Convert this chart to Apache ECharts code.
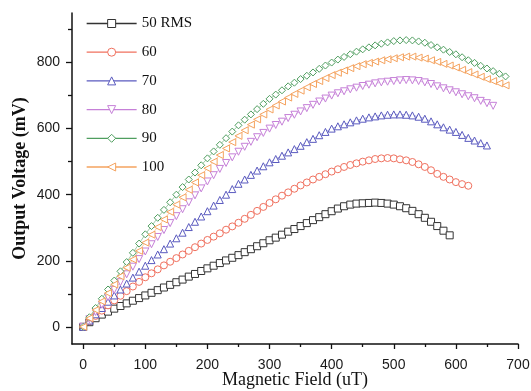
<!DOCTYPE html>
<html>
<head>
<meta charset="utf-8">
<script src="https://cdn.jsdelivr.net/npm/echarts@6/dist/echarts.min.js"></script>
<style>html,body{margin:0;padding:0;background:#fff}#c{width:531px;height:391px}</style>
</head>
<body>
<div id="c"></div>
<script>
var fieldValues = [0,10,20,30,40,50,60,70,80,90,100,110,120,130,140,150,160,170,180,190,200,210,220,230,240,250,260,270,280,290,300,310,320,330,340,350,360,370,380,390,400,410,420,430,440,450,460,470,480,490,500,510,520,530,540,550,560,570,580,590,600,610,620,630,640,650,660,670,680];
var rms50 = [0,14,26,37,46,55,63,71,79,87,95,103,111,119,127,135,143,152,160,169,177,185,193,201,209,217,226,235,244,253,262,270,279,288,296,305,314,323,332,341,350,358,365,370,373,374,375,376,375,373,370,365,359,351,341,330,318,305,291,277];
var rms60 = [0,17,33,49,65,80,94,108,122,136,150,162,174,186,197,208,219,230,241,252,263,273,283,294,304,315,327,339,351,363,375,386,397,407,418,428,437,446,454,462,470,477,484,490,495,500,504,508,510,511,510,507,504,499,492,484,474,463,454,446,438,432,427];
var rms70 = [0,19,38,57,76,95,113,131,149,167,185,202,219,235,252,268,285,302,318,334,350,367,384,400,417,433,446,460,473,486,498,508,518,528,538,548,559,569,580,590,600,607,613,619,625,630,634,637,640,642,643,643,642,640,636,630,622,613,604,597,590,581,572,564,556,549];
var rms80 = [0,23,45,67,90,112,135,159,182,205,228,250,272,293,314,335,356,377,398,419,440,459,478,496,513,530,545,560,574,587,600,611,621,632,642,652,662,672,682,691,700,707,713,719,724,729,733,737,740,742,744,746,747,746,744,740,735,728,722,716,710,704,698,692,684,677,669];
var rms90 = [0,29,57,85,113,140,168,196,224,252,280,305,330,354,377,400,423,446,467,489,510,531,551,571,591,610,627,643,659,675,690,703,716,728,739,750,760,770,781,791,800,809,817,825,833,840,846,852,857,861,865,867,868,867,864,860,853,846,839,832,825,816,807,799,790,782,774,766,758];
var rms100 = [0,26,51,77,102,128,153,179,204,230,255,279,302,325,348,370,392,415,437,459,480,500,520,540,559,578,595,612,628,643,658,670,682,694,705,715,725,735,744,753,762,769,776,783,789,795,799,803,807,810,813,816,818,818,815,812,807,802,796,791,785,778,771,764,757,750,744,737,731];
var seriesNames = ['50 RMS','60','70','80','90','100'];
var xMajorTicks = [0,100,200,300,400,500,600,700];
var xMinorTicks = [50,150,250,350,450,550,650];
var yMajorTicks = [0,200,400,600,800];
var yMinorTicks = [100,300,500,700,900];

var allValues = [rms50, rms60, rms70, rms80, rms90, rms100];
var colors = ['#333333','#f0705e','#5a5abf','#c680d8','#4f9e5f','#f5a35f'];
var symbols = ['rect','circle','triangle','triangle','diamond','triangle'];
var rotates = [0,0,0,180,0,90];

var chart = echarts.init(document.getElementById('c'), null, {renderer:'canvas'});
var series = allValues.map(function(vals, k){
  return {
    name: seriesNames[k],
    type: 'line',
    xAxisIndex: 0, yAxisIndex: 0,
    data: vals.map(function(v,i){ return [fieldValues[i], v]; }),
    symbol: symbols[k],
    symbolRotate: rotates[k],
    symbolSize: 7,
    showSymbol: true,
    lineStyle: {color: colors[k], opacity: 0.55, width: 1},
    itemStyle: {color: '#ffffff', borderColor: colors[k], borderWidth: 1},
    emphasis: {disabled: true},
    z: 2 + k
  };
});

var axisFont = {fontFamily: 'Liberation Sans, Arial, sans-serif', fontSize: 14, color: '#1a1a1a'};
var option = {
  animation: false,
  backgroundColor: '#ffffff',
  grid: {left: 72, right: 13, top: 13, bottom: 47, containLabel: false, outerBoundsMode: 'none'},
  legend: {
    orient: 'vertical', left: 81, top: 11,
    itemWidth: 50, itemHeight: 10, itemGap: 13.7,
    data: seriesNames.map(function(n, k){
      return {name: n, lineStyle: {color: colors[k], opacity: 1, width: 1.3}};
    }),
    textStyle: {fontFamily: 'Liberation Serif, Times New Roman, serif', fontSize: 15, color: '#111'},
    lineStyle: {opacity: 1, width: 1.3},
    itemStyle: {color: '#ffffff', borderWidth: 1}
  },
  xAxis: [{
    type: 'value', min: -18, max: 700,
    name: 'Magnetic Field (uT)', nameLocation: 'middle', nameGap: 27, nameMoveOverlap: false,
    nameTextStyle: {fontFamily: 'Liberation Serif, Times New Roman, serif', fontSize: 18, color: '#111'},
    axisLine: {show: true, onZero: false, lineStyle: {color: '#111', width: 1.5}},
    axisTick: {show: true, length: 5, customValues: xMajorTicks, lineStyle: {color: '#111', width: 1.3}},
    axisLabel: Object.assign({margin: 14, customValues: xMajorTicks}, axisFont),
    splitLine: {show: false}
  },{
    type: 'value', min: -18, max: 700, position: 'bottom',
    axisLine: {show: false, onZero: false},
    axisTick: {show: true, length: 3, customValues: xMinorTicks, lineStyle: {color: '#111', width: 1.3}},
    axisLabel: {show: false},
    splitLine: {show: false}
  }],
  yAxis: [{
    type: 'value', min: -52, max: 950,
    name: 'Output Voltage (mV)', nameLocation: 'middle', nameGap: 43, nameRotate: 90, nameMoveOverlap: false,
    nameTextStyle: {fontFamily: 'Liberation Serif, Times New Roman, serif', fontSize: 18, fontWeight: 'bold', color: '#111'},
    axisLine: {show: true, onZero: false, lineStyle: {color: '#111', width: 1.5}},
    axisTick: {show: true, length: 6, customValues: yMajorTicks, lineStyle: {color: '#111', width: 1.3}},
    axisLabel: Object.assign({margin: 12, customValues: yMajorTicks}, axisFont),
    splitLine: {show: false}
  },{
    type: 'value', min: -52, max: 950, position: 'left',
    axisLine: {show: false, onZero: false},
    axisTick: {show: true, length: 4, customValues: yMinorTicks, lineStyle: {color: '#111', width: 1.3}},
    axisLabel: {show: false},
    splitLine: {show: false}
  }],
  series: series
};
chart.setOption(option);
</script>
</body>
</html>
